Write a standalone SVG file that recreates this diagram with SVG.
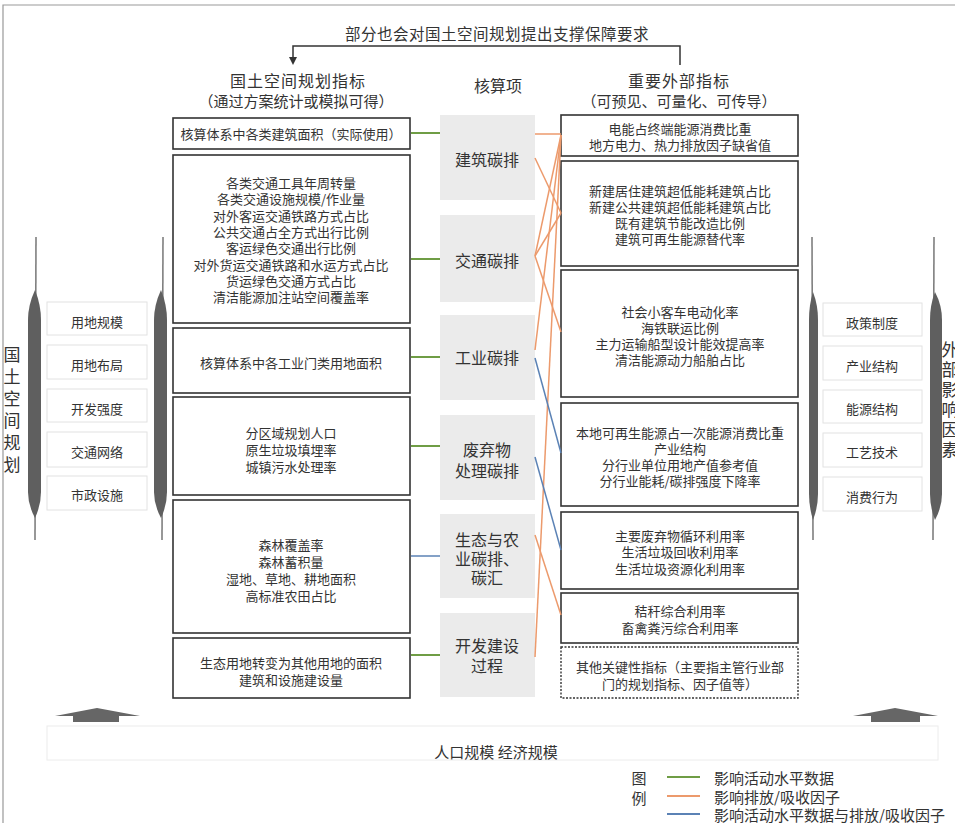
<svg xmlns="http://www.w3.org/2000/svg" width="955" height="823" viewBox="0 0 955 823">
<defs>
<style>
text{font-family:"Noto Sans CJK SC","Noto Sans",sans-serif;fill:#333;text-anchor:middle;dominant-baseline:central}
.t{font-size:13px}
.h{font-size:16px}
.c{font-size:16px}
.box{fill:#fff;stroke:#333;stroke-width:1.6}
.dash{fill:#fff;stroke:#333;stroke-width:1.4;stroke-dasharray:2 1.5}
.cbox{fill:#ebebeb;stroke:none}
.sbox{fill:#fff;stroke:#e2e2e2;stroke-width:1}
.g{stroke:#6f9d45;stroke-width:2;fill:none}
.o{stroke:#ec9a6c;stroke-width:1.5;fill:none}
.b{stroke:#5b82b5;stroke-width:1.5;fill:none}
.thin{stroke:#777;stroke-width:1.5;fill:none}
.thick{fill:#5f5f5f}
</style>
<marker id="arr" markerWidth="8" markerHeight="8" refX="4" refY="7" orient="auto-start-reverse" markerUnits="userSpaceOnUse" viewBox="0 0 8 8">
<path d="M0,0 L8,0 L4,8 Z" fill="#333"/>
</marker>
</defs>
<rect width="955" height="823" fill="#fff"/>
<path d="M3,823 L3,5 L955,5" fill="none" stroke="#999" stroke-width="1.2"/>

<g id="top-note">
<text x="497" y="33" class="h" style="font-size:15.5px;letter-spacing:0.5px">部分也会对国土空间规划提出支撑保障要求</text>
<path d="M293,58 L293,46 L680,46 L680,65" fill="none" stroke="#333" stroke-width="1.5"/>
<path d="M289,57 L297,57 L293,65 Z" fill="#333"/>
</g>

<g id="headers">
<text x="298" y="80" class="h" style="letter-spacing:1px">国土空间规划指标</text>
<text x="296" y="100" class="h" style="font-size:15px">（通过方案统计或模拟可得）</text>
<text x="498" y="85" class="h">核算项</text>
<text x="679" y="80" class="h" style="letter-spacing:1px">重要外部指标</text>
<text x="679" y="100" class="h" style="font-size:15px">（可预见、可量化、可传导）</text>
</g>

<!-- left panel -->
<g id="left-panel">
<path class="thin" d="M36,237 L35,540"/>
<path class="thick" d="M35,290 Q28,305 28,320 L28,492 Q28,505 35,518 Q41,505 41,492 L41,320 Q41,305 35,290 Z"/>
<path class="thin" d="M163,237 L162,540"/>
<path class="thick" d="M161,290 Q154,305 154,320 L154,492 Q154,505 161,518 Q167,505 167,492 L167,320 Q167,305 161,290 Z"/>
<text class="h" x="12" y="353" style="font-size:17px">国</text>
<text class="h" x="12" y="375" style="font-size:17px">土</text>
<text class="h" x="12" y="397" style="font-size:17px">空</text>
<text class="h" x="12" y="419" style="font-size:17px">间</text>
<text class="h" x="12" y="441" style="font-size:17px">规</text>
<text class="h" x="12" y="463" style="font-size:17px">划</text>
<g id="s-ydgm"><rect class="sbox" x="47" y="302" width="100" height="33"/><text class="t" x="97" y="321">用地规模</text></g>
<g id="s-ydbj"><rect class="sbox" x="47" y="345" width="100" height="34"/><text class="t" x="97" y="364">用地布局</text></g>
<g id="s-kfqd"><rect class="sbox" x="47" y="389" width="100" height="33"/><text class="t" x="97" y="408">开发强度</text></g>
<g id="s-jtwl"><rect class="sbox" x="47" y="432" width="100" height="35"/><text class="t" x="97" y="451">交通网络</text></g>
<g id="s-szss"><rect class="sbox" x="47" y="476" width="100" height="34"/><text class="t" x="97" y="494">市政设施</text></g>
</g>

<!-- right panel -->
<g id="right-panel">
<path class="thin" d="M812,237 L813,540"/>
<path class="thick" d="M813,292 Q818,305 818,320 L818,494 Q818,507 813,520 Q809,507 809,494 L809,320 Q809,305 813,292 Z"/>
<path class="thin" d="M934,237 L933,540"/>
<path class="thick" d="M935,292 Q942,305 942,320 L942,494 Q942,507 935,520 Q930,507 930,494 L930,320 Q930,305 935,292 Z"/>
<text class="h" x="950" y="348" style="font-size:17px">外</text>
<text class="h" x="950" y="368" style="font-size:17px">部</text>
<text class="h" x="950" y="388" style="font-size:17px">影</text>
<text class="h" x="950" y="408" style="font-size:17px">响</text>
<text class="h" x="950" y="428" style="font-size:17px">因</text>
<text class="h" x="950" y="448" style="font-size:17px">素</text>
<g id="s-zczd"><rect class="sbox" x="823" y="303" width="99" height="33"/><text class="t" x="872" y="322">政策制度</text></g>
<g id="s-cyjg"><rect class="sbox" x="823" y="346" width="99" height="34"/><text class="t" x="872" y="365">产业结构</text></g>
<g id="s-nyjg"><rect class="sbox" x="823" y="390" width="99" height="33"/><text class="t" x="872" y="408">能源结构</text></g>
<g id="s-gyjs"><rect class="sbox" x="823" y="433" width="99" height="34"/><text class="t" x="872" y="451">工艺技术</text></g>
<g id="s-xfxw"><rect class="sbox" x="823" y="477" width="99" height="34"/><text class="t" x="872" y="496">消费行为</text></g>
</g>

<!-- left column -->
<g id="L1"><rect class="box" x="173" y="118" width="237" height="31"/><text class="t" x="291" y="133">核算体系中各类建筑面积（实际使用）</text></g>
<g id="L2"><rect class="box" x="173" y="155" width="237" height="168"/>
<text class="t" x="291" y="182">各类交通工具年周转量</text>
<text class="t" x="291" y="198">各类交通设施规模/作业量</text>
<text class="t" x="291" y="215">对外客运交通铁路方式占比</text>
<text class="t" x="291" y="231">公共交通占全方式出行比例</text>
<text class="t" x="291" y="247">客运绿色交通出行比例</text>
<text class="t" x="291" y="264">对外货运交通铁路和水运方式占比</text>
<text class="t" x="291" y="280">货运绿色交通方式占比</text>
<text class="t" x="291" y="296">清洁能源加注站空间覆盖率</text>
</g>
<g id="L3"><rect class="box" x="173" y="328" width="237" height="65"/><text class="t" x="291" y="362">核算体系中各工业门类用地面积</text></g>
<g id="L4"><rect class="box" x="173" y="397" width="237" height="98"/>
<text class="t" x="291" y="432">分区域规划人口</text>
<text class="t" x="291" y="449">原生垃圾填埋率</text>
<text class="t" x="291" y="466">城镇污水处理率</text>
</g>
<g id="L5"><rect class="box" x="173" y="500" width="237" height="133"/>
<text class="t" x="291" y="544">森林覆盖率</text>
<text class="t" x="291" y="561">森林蓄积量</text>
<text class="t" x="291" y="578">湿地、草地、耕地面积</text>
<text class="t" x="291" y="595">高标准农田占比</text>
</g>
<g id="L6"><rect class="box" x="173" y="638" width="237" height="60"/>
<text class="t" x="291" y="662">生态用地转变为其他用地的面积</text>
<text class="t" x="291" y="679">建筑和设施建设量</text>
</g>

<!-- center column -->
<g id="C1"><rect class="cbox" x="440" y="115" width="95" height="85"/><text class="c" x="487" y="159">建筑碳排</text></g>
<g id="C2"><rect class="cbox" x="440" y="215" width="95" height="87"/><text class="c" x="487" y="260">交通碳排</text></g>
<g id="C3"><rect class="cbox" x="440" y="315" width="95" height="85"/><text class="c" x="487" y="357">工业碳排</text></g>
<g id="C4"><rect class="cbox" x="440" y="415" width="95" height="85"/><text class="c" x="487" y="449">废弃物</text><text class="c" x="487" y="470">处理碳排</text></g>
<g id="C5"><rect class="cbox" x="440" y="514" width="95" height="84"/><text class="c" x="487" y="539">生态与农</text><text class="c" x="487" y="558">业碳排、</text><text class="c" x="487" y="577">碳汇</text></g>
<g id="C6"><rect class="cbox" x="440" y="613" width="95" height="84"/><text class="c" x="487" y="645">开发建设</text><text class="c" x="487" y="665">过程</text></g>

<!-- right column -->
<g id="R1"><rect class="box" x="561" y="115" width="237" height="41"/>
<text class="t" x="680" y="128">电能占终端能源消费比重</text>
<text class="t" x="680" y="144">地方电力、热力排放因子缺省值</text>
</g>
<g id="R2"><rect class="box" x="561" y="161" width="237" height="105"/>
<text class="t" x="680" y="190">新建居住建筑超低能耗建筑占比</text>
<text class="t" x="680" y="206">新建公共建筑超低能耗建筑占比</text>
<text class="t" x="680" y="222">既有建筑节能改造比例</text>
<text class="t" x="680" y="238">建筑可再生能源替代率</text>
</g>
<g id="R3"><rect class="box" x="561" y="270" width="237" height="127"/>
<text class="t" x="680" y="311">社会小客车电动化率</text>
<text class="t" x="680" y="327">海铁联运比例</text>
<text class="t" x="680" y="343">主力运输船型设计能效提高率</text>
<text class="t" x="680" y="359">清洁能源动力船舶占比</text>
</g>
<g id="R4"><rect class="box" x="561" y="403" width="237" height="103"/>
<text class="t" x="680" y="432">本地可再生能源占一次能源消费比重</text>
<text class="t" x="680" y="448">产业结构</text>
<text class="t" x="680" y="464">分行业单位用地产值参考值</text>
<text class="t" x="680" y="480">分行业能耗/碳排强度下降率</text>
</g>
<g id="R5"><rect class="box" x="561" y="512" width="237" height="77"/>
<text class="t" x="680" y="535">主要废弃物循环利用率</text>
<text class="t" x="680" y="551">生活垃圾回收利用率</text>
<text class="t" x="680" y="568">生活垃圾资源化利用率</text>
</g>
<g id="R6"><rect class="box" x="561" y="593" width="237" height="50"/>
<text class="t" x="680" y="610">秸秆综合利用率</text>
<text class="t" x="680" y="627">畜禽粪污综合利用率</text>
</g>
<g id="R7"><rect class="dash" x="561" y="647" width="237" height="51"/>
<text class="t" x="680" y="666">其他关键性指标（主要指主管行业部</text>
<text class="t" x="680" y="683">门的规划指标、因子值等）</text>
</g>

<g id="connectors">
<path class="g" d="M411,133 L440,133"/>
<path class="g" d="M411,259 L440,259"/>
<path class="g" d="M411,357 L440,357"/>
<path class="g" d="M411,446 L440,446"/>
<path class="b" d="M411,556 L440,556"/>
<path class="g" d="M411,655 L440,655"/>
<path class="o" d="M535,134 L561,134"/>
<path class="o" d="M535,158 L561,213"/>
<path class="o" d="M535,256 L561,135"/>
<path class="o" d="M535,256 L561,213"/>
<path class="o" d="M535,256 L561,332"/>
<path class="o" d="M535,350 L561,135"/>
<path class="o" d="M535,657 L561,135"/>
<path class="o" d="M535,535 L561,615"/>
<path class="b" d="M535,358 L561,453"/>
<path class="b" d="M535,457 L561,550"/>
</g>

<g id="bottom">
<rect x="47" y="726" width="891" height="34" fill="none" stroke="#ececec" stroke-width="1"/>
<polygon points="55,716 97,708 140,716" fill="#666"/>
<rect x="73" y="716" width="46" height="6" fill="#666"/>
<polygon points="853,716 895,708 938,716" fill="#666"/>
<rect x="871" y="716" width="49" height="6" fill="#666"/>
<text class="h" x="496" y="751" style="font-size:15px">人口规模 经济规模</text>
</g>

<g id="legend">
<text class="h" x="639" y="777" style="font-size:15px">图</text>
<text class="h" x="639" y="797" style="font-size:15px">例</text>
<path class="g" d="M667,777 L700,777"/>
<path class="o" d="M667,796 L700,796" style="stroke-width:2"/>
<path class="b" d="M667,814 L700,814" style="stroke-width:2"/>
<text class="h" x="714" y="777" style="font-size:15px;text-anchor:start">影响活动水平数据</text>
<text class="h" x="714" y="796" style="font-size:15px;text-anchor:start">影响排放/吸收因子</text>
<text class="h" x="714" y="814" style="font-size:15px;text-anchor:start">影响活动水平数据与排放/吸收因子</text>
</g>
</svg>
